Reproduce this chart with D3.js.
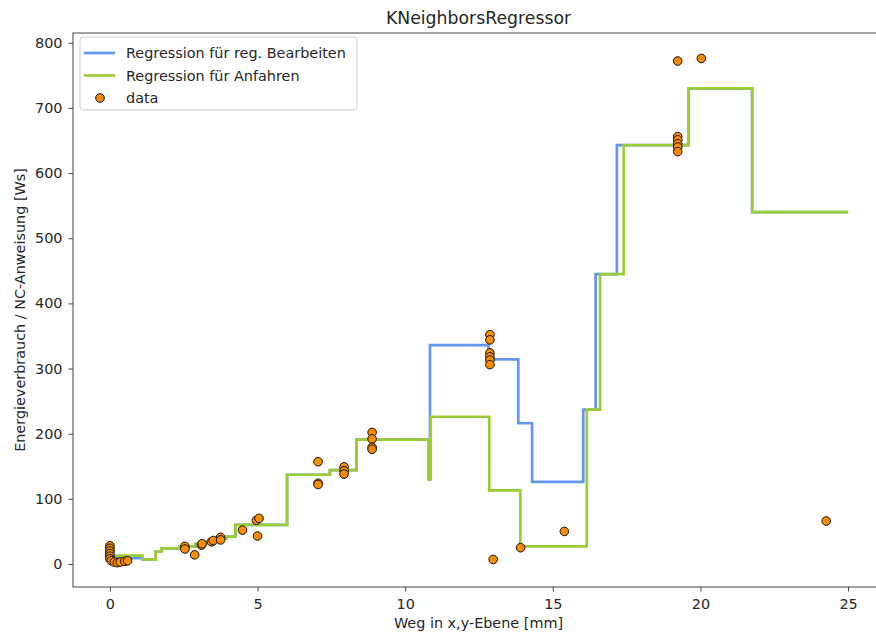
<!DOCTYPE html>
<html>
<head>
<meta charset="utf-8">
<script src="https://cdn.jsdelivr.net/npm/d3@7"></script>
<style>
  body { margin: 0; background: #fff; }
  text { font-family: "DejaVu Sans", sans-serif; fill: #262626; }
</style>
</head>
<body>
<div id="chart"></div>
<script>
// measured data
var pointX = [0, 0, 0, 0, 0, 0, 0.05, 0.15, 0.25, 0.35, 0.5, 0.6,
    2.54, 2.54, 2.87, 3.1, 3.12, 3.44, 3.5, 3.75, 3.75, 4.49, 4.96, 5.05, 5.0,
    7.05, 7.05, 7.05, 7.93, 7.93, 7.93, 8.88, 8.88, 8.88, 8.88,
    12.87, 12.87, 12.87, 12.87, 12.87, 12.87, 12.98, 13.91, 15.39,
    19.23, 19.23, 19.23, 19.23, 19.23, 19.23, 20.03, 24.26];
var pointY = [28, 24, 20, 16, 12, 8, 5, 3, 2, 3, 4, 5,
    27, 23, 14, 29, 31, 34, 36, 41, 37, 52, 67, 70, 43,
    157, 124, 122, 149, 143, 138, 202, 192, 179, 176,
    352, 344, 324, 318, 313, 306, 7, 25, 50,
    772, 656, 651, 645, 640, 633, 776, 66];

// step functions (value starts at x)
var blueX = [0, 1.1, 1.55, 1.75, 2.35, 2.9, 3.25, 3.6, 3.95, 4.25, 6.0, 7.45, 8.35, 10.8, 10.84,
    12.82, 13.83, 14.3, 16.03, 16.45, 17.17, 19.6, 21.75, 25];
var blueY = [9, 7, 19, 24, 27, 31, 34, 39, 42, 60, 137, 144, 191, 130, 336,
    314, 216, 126, 237, 445, 643, 730, 540, 540];
var greenX = [0, 1.1, 1.55, 1.75, 2.35, 2.9, 3.25, 3.6, 3.95, 4.25, 6.0, 7.45, 8.35, 10.8, 10.86,
    12.85, 13.9, 16.15, 16.6, 17.4, 19.6, 21.75, 25];
var greenY = [13, 7, 19, 24, 27, 31, 34, 39, 42, 60, 137, 144, 191, 130, 226,
    113, 27, 237, 445, 643, 730, 540, 540];

var xTicks = [0, 5, 10, 15, 20, 25];
var yTicks = [0, 100, 200, 300, 400, 500, 600, 700, 800];
var legendNames = ["Regression für reg. Bearbeiten", "Regression für Anfahren", "data"];

var width = 876, height = 635;
var margin = { top: 33, right: -9, bottom: 48, left: 73 };

var svg = d3.select("#chart").append("svg")
    .attr("width", width)
    .attr("height", height);

var x = d3.scaleLinear().domain([-1.25, 26.25]).range([margin.left, width - margin.right]);
var y = d3.scaleLinear().domain([-35.3, 815]).range([height - margin.bottom, margin.top]);

var blueColor = "#6495ED", greenColor = "#9ACD32", dotColor = "#FF8C00";

// axes
var xAxis = svg.append("g")
    .attr("transform", "translate(0," + (height - margin.bottom) + ")")
    .call(d3.axisBottom(x).tickValues(xTicks).tickSize(4.5).tickPadding(7));
var yAxis = svg.append("g")
    .attr("transform", "translate(" + margin.left + ",0)")
    .call(d3.axisLeft(y).tickValues(yTicks).tickSize(4.5).tickPadding(6));

[xAxis, yAxis].forEach(function(a) {
    a.select(".domain").remove();
    a.selectAll("line").attr("stroke", "#444");
    a.selectAll("text").style("font-size", "14.4px").style("fill", "#262626")
        .attr("font-family", null);
});

// frame
svg.append("rect")
    .attr("x", margin.left)
    .attr("y", margin.top)
    .attr("width", x.range()[1] - margin.left)
    .attr("height", y.range()[0] - margin.top)
    .attr("fill", "none")
    .attr("stroke", "#444")
    .attr("stroke-width", 1);

function stepData(xs, ys) {
    return xs.map(function(d, i) { return [d, ys[i]]; });
}

var line = d3.line()
    .x(function(d) { return x(d[0]); })
    .y(function(d) { return y(d[1]); })
    .curve(d3.curveStepAfter);

svg.append("path")
    .datum(stepData(blueX, blueY))
    .attr("d", line)
    .attr("fill", "none")
    .attr("stroke", blueColor)
    .attr("stroke-width", 2.7);

svg.append("path")
    .datum(stepData(greenX, greenY))
    .attr("d", line)
    .attr("fill", "none")
    .attr("stroke", greenColor)
    .attr("stroke-width", 2.7);

svg.append("g").selectAll("circle")
    .data(pointX)
    .enter().append("circle")
    .attr("cx", function(d) { return x(d); })
    .attr("cy", function(d, i) { return y(pointY[i]); })
    .attr("r", 4.3)
    .attr("fill", dotColor)
    .attr("stroke", "#111")
    .attr("stroke-width", 1);

// title and labels
svg.append("text")
    .attr("x", (margin.left + 884) / 2)
    .attr("y", 24)
    .attr("text-anchor", "middle")
    .style("font-size", "17.3px")
    .text("KNeighborsRegressor");

svg.append("text")
    .attr("x", (margin.left + 884) / 2)
    .attr("y", 628)
    .attr("text-anchor", "middle")
    .style("font-size", "14.4px")
    .text("Weg in x,y-Ebene [mm]");

svg.append("text")
    .attr("transform", "translate(25," + ((margin.top + y.range()[0]) / 2) + ") rotate(-90)")
    .attr("text-anchor", "middle")
    .style("font-size", "14.4px")
    .text("Energieverbrauch / NC-Anweisung [Ws]");

// legend
var legend = svg.append("g").attr("transform", "translate(80,37)");
legend.append("rect")
    .attr("width", 277)
    .attr("height", 73)
    .attr("rx", 3)
    .attr("fill", "#fff")
    .attr("fill-opacity", 0.8)
    .attr("stroke", "#ccc");

var items = legend.selectAll(".legend")
    .data(legendNames)
    .enter().append("g")
    .attr("class", "legend")
    .attr("transform", function(d, i) { return "translate(0," + (16 + 22.5 * i) + ")"; });

items.each(function(d, i) {
    var g = d3.select(this);
    if (i < 2) {
        g.append("line")
            .attr("x1", 4).attr("x2", 35)
            .attr("stroke", i == 0 ? blueColor : greenColor)
            .attr("stroke-width", 2.7);
    } else {
        g.append("circle")
            .attr("cx", 20).attr("r", 4.3)
            .attr("fill", dotColor)
            .attr("stroke", "#111");
    }
    g.append("text")
        .attr("x", 46)
        .attr("dy", "0.35em")
        .style("font-size", "14.4px")
        .text(d);
});
</script>
</body>
</html>
